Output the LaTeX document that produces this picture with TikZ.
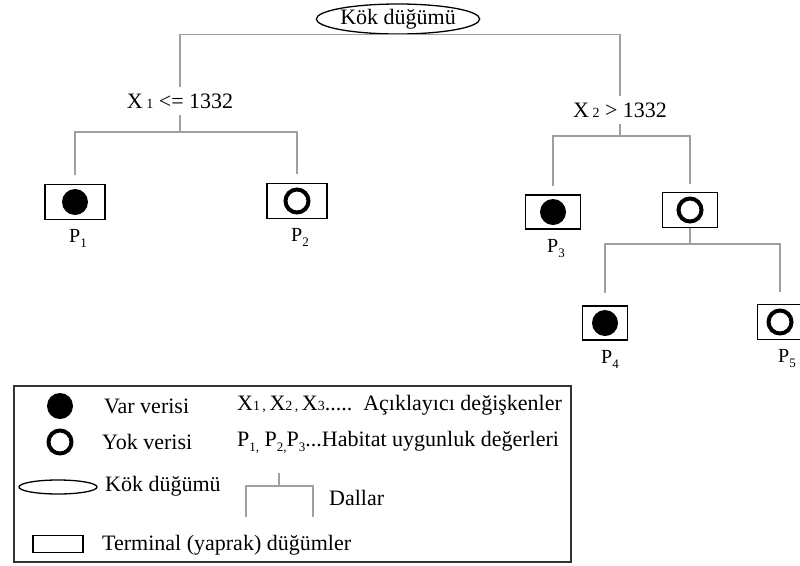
\documentclass[tikz,border=0pt]{standalone}
\usepackage{fontspec}
\setmainfont{Liberation Serif}
\usetikzlibrary{shapes.geometric, positioning}
\newcommand{\xsub}[1]{X\,{\fontsize{14}{14}\selectfont #1}}
\newcommand{\psub}[1]{P\raisebox{-5pt}{\fontsize{13}{13}\selectfont #1}}

\begin{document}
\begin{tikzpicture}[
  x=1pt, y=-1pt,
  every node/.style={font=\fontsize{22}{26}\selectfont, inner sep=1pt},
  branch/.style={draw=gray!75, line width=1.6pt},
  rootnode/.style={ellipse, draw, line width=1.3pt, minimum width=152pt,
                   minimum height=30pt, inner sep=0pt},
  split/.style={inner sep=6pt},
  leaf/.style={rectangle, draw, line width=1.6pt, minimum width=60pt,
               minimum height=35pt, inner sep=0pt},
  varleaf/.style={leaf, path picture={\fill (path picture bounding box.center) circle (13pt);}},
  yokleaf/.style={leaf, path picture={\draw[line width=4pt] (path picture bounding box.center) circle (11.5pt);}},
  plabel/.style={font=\fontsize{20}{24}\selectfont},
  varmark/.style={circle, fill, minimum size=26pt, inner sep=0pt},
  yokmark/.style={circle, draw, line width=4pt, minimum size=23pt, inner sep=0pt},
  keyroot/.style={ellipse, draw, line width=1.3pt, minimum width=78pt,
                  minimum height=14pt, inner sep=0pt},
  keyleaf/.style={rectangle, draw, line width=1.4pt, minimum width=50pt,
                  minimum height=17pt, inner sep=0pt},
  keytext/.style={anchor=west},
]
\useasboundingbox (0,0) rectangle (800,565);

% Root and first split
\node[rootnode] (root) at (398,19) {Kök düğümü};
\node[split] (spl1) at (180,101) {\xsub{1} <= 1332};
\node[split] (spl2) at (620,110) {\xsub{2} > 1332};

% Leaves
\node[varleaf] (leaf1) at (75,202) {};
\node[yokleaf] (leaf2) at (297,201) {};
\node[varleaf, minimum width=55pt, minimum height=34pt] (leaf3) at (553,212) {};
\node[yokleaf, minimum width=55pt] (leaf4) at (690,210) {};
\node[varleaf, minimum width=45pt, minimum height=34pt] (leaf5) at (605,323) {};
\node[yokleaf, minimum width=45pt] (leaf6) at (780,322) {};

\node[plabel, below=8pt of leaf1, xshift=3pt] (p1) {\psub{1}};
\node[plabel, below=8pt of leaf2, xshift=3pt] (p2) {\psub{2}};
\node[plabel, below=8pt of leaf3, xshift=3pt] (p3) {\psub{3}};
\node[plabel, below=8pt of leaf5, xshift=5pt] (p4) {\psub{4}};
\node[plabel, below=8pt of leaf6, xshift=7pt] (p5) {\psub{5}};

% Branches
\coordinate (j1) at (180,132);
\coordinate (j2) at (620,136);
\coordinate (j3) at (690,244);
\draw[branch] (spl1.north) |- (root.south) -| (spl2.north);
\draw[branch] (spl1.south) -- (j1);
\draw[branch, shorten >=9pt] (j1) -| (leaf1.north);
\draw[branch, shorten >=9pt] (j1) -| (leaf2.north);
\draw[branch] (spl2.south) -- (j2);
\draw[branch, shorten >=8pt] (j2) -| (leaf3.north);
\draw[branch, shorten >=8pt] (j2) -| (leaf4.north);
\draw[branch] (leaf4.south) -- (j3);
\draw[branch, shorten >=12pt] (j3) -| (leaf5.north);
\draw[branch, shorten >=12pt] (j3) -| (leaf6.north);

% Legend
\draw[line width=1.3pt, black!80] (14,386) rectangle (571,562);
\node[varmark] (kvar) at (60,406) {};
\node[keytext] (tvar) at (103,406) {Var verisi};
\node[yokmark] (kyok) at (60,442) {};
\node[keytext] (tyok) at (101,442) {Yok verisi};
\node[keyroot] (kroot) at (58,487) {};
\node[keytext] (troot) at (104,486) {Kök düğümü};
\node[keyleaf] (kleaf) at (58,544) {};
\node[keytext] (tleaf) at (101,545) {Terminal (yaprak) düğümler};
\node[keytext] (txs) at (236,405) {X{\fontsize{14}{14}\selectfont 1\,,}\,X{\fontsize{14}{14}\selectfont 2\,,}\,X{\fontsize{14}{14}\selectfont 3}.....~~Açıklayıcı değişkenler};
\node[keytext] (tps) at (236,442) {\psub{1,} \psub{2,}\psub{3}...Habitat uygunluk değerleri};
\coordinate (kb) at (279,486);
\draw[branch] (279,473) -- (kb);
\draw[branch] (246,517) |- (313,486) -- (313,517);
\node[keytext] (tdal) at (328,498) {Dallar};

\end{tikzpicture}
\end{document}
